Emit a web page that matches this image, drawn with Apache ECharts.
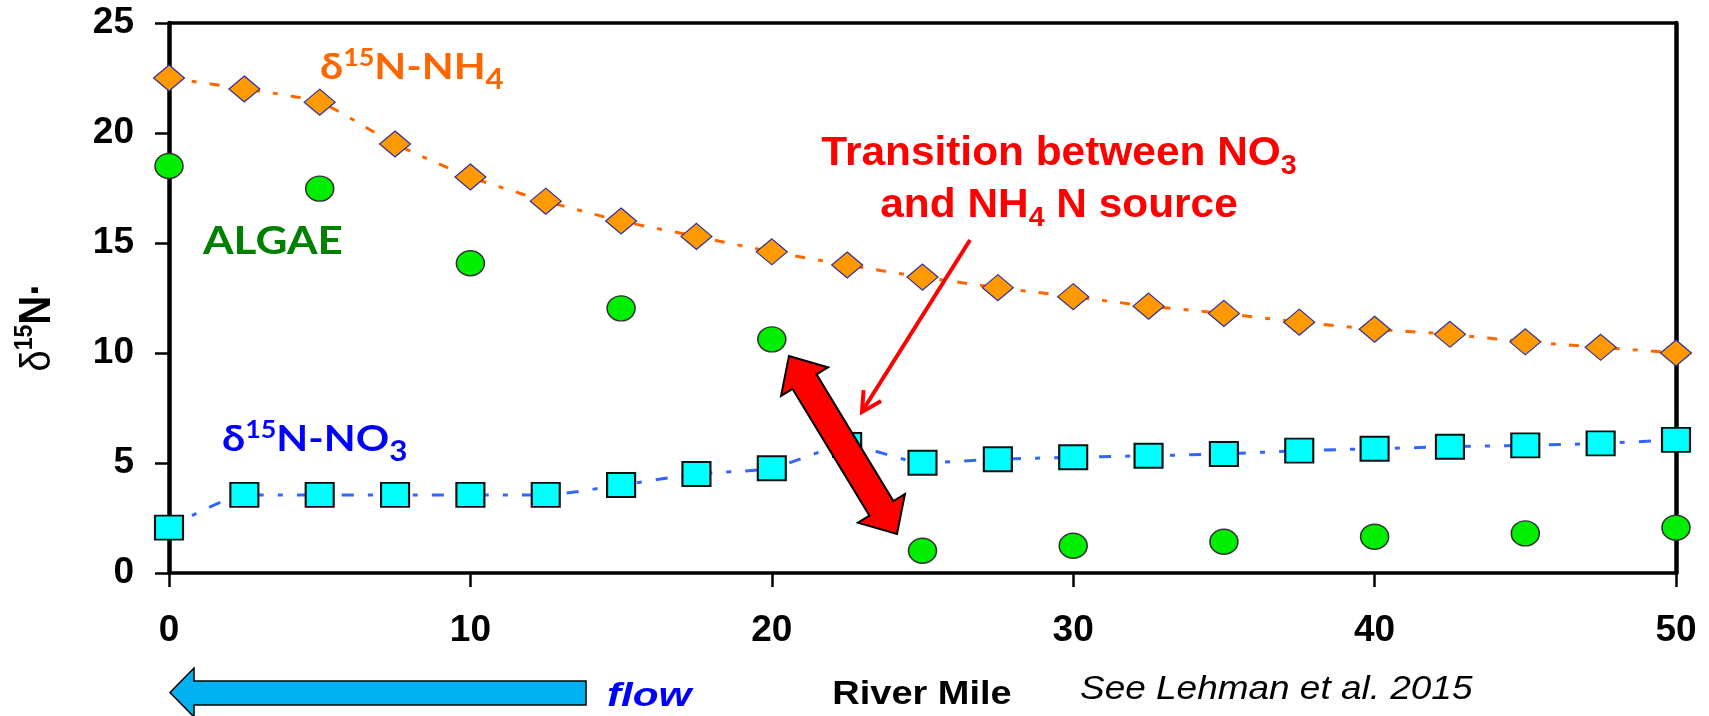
<!DOCTYPE html>
<html>
<head>
<meta charset="utf-8">
<script src="https://cdn.jsdelivr.net/npm/echarts/dist/echarts.min.js"></script>
<style>
  html, body { margin: 0; padding: 0; background: #fff; }
  #main { width: 1709px; height: 716px; }
</style>
</head>
<body>
<div id="main"></div>
<script>
// river mile positions and d15N values
var milesIso = [0, 2.5, 5, 7.5, 10, 12.5, 15, 17.5, 20, 22.5, 25, 27.5, 30, 32.5, 35, 37.5, 40, 42.5, 45, 47.5, 50];
var nh4 = [22.5, 22.0, 21.4, 19.5, 18.0, 16.9, 16.0, 15.3, 14.6, 14.0, 13.45, 12.97, 12.56, 12.13, 11.8, 11.4, 11.08, 10.85, 10.51, 10.26, 10.0];
var no3 = [2.06, 3.55, 3.55, 3.55, 3.55, 3.55, 4.0, 4.5, 4.76, 5.82, 5.01, 5.17, 5.26, 5.33, 5.41, 5.56, 5.65, 5.74, 5.8, 5.89, 6.05];
var milesAlgae = [0, 5, 10, 15, 20, 25, 30, 35, 40, 45, 50];
var algae = [18.5, 17.47, 14.08, 12.03, 10.62, 1.01, 1.24, 1.42, 1.65, 1.8, 2.06];

// axes
var xRange = [0, 50], xStep = 10;
var yRange = [0, 25], yStep = 5;

var FONT = '"Liberation Sans", Arial, sans-serif';
var CAL = 'Lato, "Open Sans", sans-serif';

function pairs(xs, ys) { return xs.map(function (x, i) { return [x, ys[i]]; }); }

// polygon for a two headed block arrow between two points
function dblArrow(ax, ay, bx, by, hl, hw, sw) {
  var dx = bx - ax, dy = by - ay, len = Math.hypot(dx, dy);
  var ux = dx / len, uy = dy / len, nx = -uy, ny = ux;
  function p(t, s) { return [ax + ux * t + nx * s, ay + uy * t + ny * s]; }
  return [p(0, 0), p(hl, hw), p(hl, sw), p(len - hl, sw), p(len - hl, hw), p(len, 0),
          p(len - hl, -hw), p(len - hl, -sw), p(hl, -sw), p(hl, -hw)];
}
// open V head at (tx,ty) for a line coming from (fx,fy)
function vHead(fx, fy, tx, ty, l, ang) {
  var a = Math.atan2(fy - ty, fx - tx);
  return [[tx + l * Math.cos(a + ang), ty + l * Math.sin(a + ang)], [tx, ty],
          [tx + l * Math.cos(a - ang), ty + l * Math.sin(a - ang)]];
}

// rich styles for "δ15N-XX_n" labels
function isoRich(color) {
  return {
    d: { fontFamily: CAL, fontWeight: 'bold', fontSize: 37, lineHeight: 60, fill: color },
    n: { fontFamily: CAL, fontWeight: 'bold', fontSize: 37, lineHeight: 60, fill: color },
    s: { fontFamily: CAL, fontWeight: 'bold', fontSize: 24, verticalAlign: 'top', padding: [9, 0, 0, 0], fill: color },
    b: { fontFamily: CAL, fontWeight: 'bold', fontSize: 28, verticalAlign: 'bottom', padding: [0, 0, 3, 0], fill: color }
  };
}

var myChart = echarts.init(document.getElementById('main'));

var axisLabel = { color: '#000', fontFamily: FONT, fontWeight: 'bold', fontSize: 37 };

myChart.setOption({
  backgroundColor: '#fff',
  animation: false,
  grid: { left: 169, right: 33, top: 23, bottom: 143 },
  xAxis: [{
    type: 'value', min: xRange[0], max: xRange[1], interval: xStep,
    axisLine: { lineStyle: { color: '#000', width: 3.5 } },
    axisTick: { length: 14, lineStyle: { color: '#000', width: 2.5 } },
    axisLabel: Object.assign({ margin: 39 }, axisLabel),
    splitLine: { show: false }
  }, {
    type: 'value', position: 'top', min: xRange[0], max: xRange[1],
    axisLine: { show: true, onZero: false, lineStyle: { color: '#000', width: 3.5 } },
    axisTick: { show: false }, axisLabel: { show: false }, splitLine: { show: false }
  }],
  yAxis: [{
    type: 'value', min: yRange[0], max: yRange[1], interval: yStep,
    axisLine: { show: true, onZero: false, lineStyle: { color: '#000', width: 4.5 } },
    axisTick: { show: true, length: 14, lineStyle: { color: '#000', width: 2.5 } },
    axisLabel: Object.assign({ margin: 35 }, axisLabel),
    splitLine: { show: false }
  }, {
    type: 'value', position: 'right', min: yRange[0], max: yRange[1],
    axisLine: { show: true, onZero: false, lineStyle: { color: '#000', width: 4.5 } },
    axisTick: { show: false }, axisLabel: { show: false }, splitLine: { show: false }
  }],
  series: [{
    name: 'NH4', type: 'line', smooth: 0.2, clip: false,
    data: pairs(milesIso, nh4),
    symbol: 'diamond', symbolSize: [31, 26],
    lineStyle: { color: '#ff6600', width: 3, type: [10, 13, 5, 13] },
    itemStyle: { color: '#ff9900', borderColor: '#333399', borderWidth: 1.2 },
    z: 3
  }, {
    name: 'NO3', type: 'line', smooth: 0.2, clip: false,
    data: pairs(milesIso, no3),
    symbol: 'rect', symbolSize: [28, 24],
    lineStyle: { color: '#3366ff', width: 3, type: [12, 14, 5, 14] },
    itemStyle: { color: '#00ffff', borderColor: '#111', borderWidth: 2 },
    z: 3
  }, {
    name: 'ALGAE', type: 'scatter', clip: false,
    data: pairs(milesAlgae, algae),
    symbol: 'circle', symbolSize: [28, 25],
    itemStyle: { color: '#00ee00', borderColor: '#333', borderWidth: 1.5, opacity: 1 },
    z: 4
  }],
  graphic: [
    // series labels
    { type: 'text', x: 320, y: 67, scaleX: 1.12, z: 50, style: {
        text: '{d|δ}{s|15}{n|N-NH}{b|4}', fill: '#ff6600', verticalAlign: 'middle',
        rich: isoRich('#ff6600') } },
    { type: 'text', x: 222, y: 439, scaleX: 1.12, z: 50, style: {
        text: '{d|δ}{s|15}{n|N-NO}{b|3}', fill: '#0000ff', verticalAlign: 'middle',
        rich: isoRich('#0000ff') } },
    { type: 'text', x: 203, y: 241, scaleX: 1.13, z: 50, style: {
        text: 'ALGAE', fill: '#008000', font: 'bold 39px ' + CAL, verticalAlign: 'middle' } },

    // transition note
    { type: 'text', x: 1059, y: 128, scaleX: 1.06, z: 50, style: {
        text: '{t|Transition between NO}{b|3}\n{t|and NH}{b|4}{t| N source}',
        fill: '#ff0000', align: 'center', verticalAlign: 'top',
        rich: {
          t: { fontFamily: FONT, fontWeight: 'bold', fontSize: 40, lineHeight: 52, fill: '#ff0000' },
          b: { fontFamily: FONT, fontWeight: 'bold', fontSize: 27, lineHeight: 24, verticalAlign: 'bottom', fill: '#ff0000' }
        } } },
    { type: 'line', z: 60, shape: { x1: 970, y1: 240, x2: 863, y2: 410 },
      style: { stroke: '#ff0000', lineWidth: 4 } },
    { type: 'polyline', z: 60, shape: { points: vHead(970, 240, 862, 412, 22, 0.49) },
      style: { stroke: '#ff0000', lineWidth: 4, fill: null, lineJoin: 'miter' } },
    { type: 'polygon', z: 60, shape: { points: dblArrow(789, 356, 897, 534, 30, 27.5, 14) },
      style: { fill: '#ff0000', stroke: '#000', lineWidth: 2, lineJoin: 'miter' } },

    // axis titles and footer
    { type: 'text', x: 38, y: 327, rotation: Math.PI / 2, scaleY: 1.12, z: 50, style: {
        text: '{d|δ}{s|15}{n|N·}', align: 'center', verticalAlign: 'middle',
        rich: {
          d: { fontFamily: FONT, fontSize: 38, lineHeight: 50, fill: '#000' },
          s: { fontFamily: FONT, fontWeight: 'bold', fontSize: 23, verticalAlign: 'top', padding: [2, 0, 0, 0], fill: '#000' },
          n: { fontFamily: FONT, fontWeight: 'bold', fontSize: 40, lineHeight: 50, fill: '#000' }
        } } },
    { type: 'text', x: 922, y: 695, scaleX: 1.15, z: 50, style: {
        text: 'River Mile', fill: '#000', font: 'bold 33px ' + FONT, align: 'center', verticalAlign: 'middle' } },
    { type: 'text', x: 1080, y: 690, scaleX: 1.12, z: 50, style: {
        text: 'See Lehman et al. 2015', fill: '#000', font: 'italic 33px ' + FONT, verticalAlign: 'middle' } },
    { type: 'polygon', z: 50, shape: { points: [[170, 692.5], [194, 668], [194, 681], [586, 681], [586, 705], [194, 705], [194, 717]] },
      style: { fill: '#00b0f0', stroke: '#000', lineWidth: 1.5 } },
    { type: 'text', x: 607, y: 697, scaleX: 1.28, z: 50, style: {
        text: 'flow', fill: '#0000ff', font: 'italic bold 33px ' + FONT, verticalAlign: 'middle' } }
  ]
});
</script>
</body>
</html>
